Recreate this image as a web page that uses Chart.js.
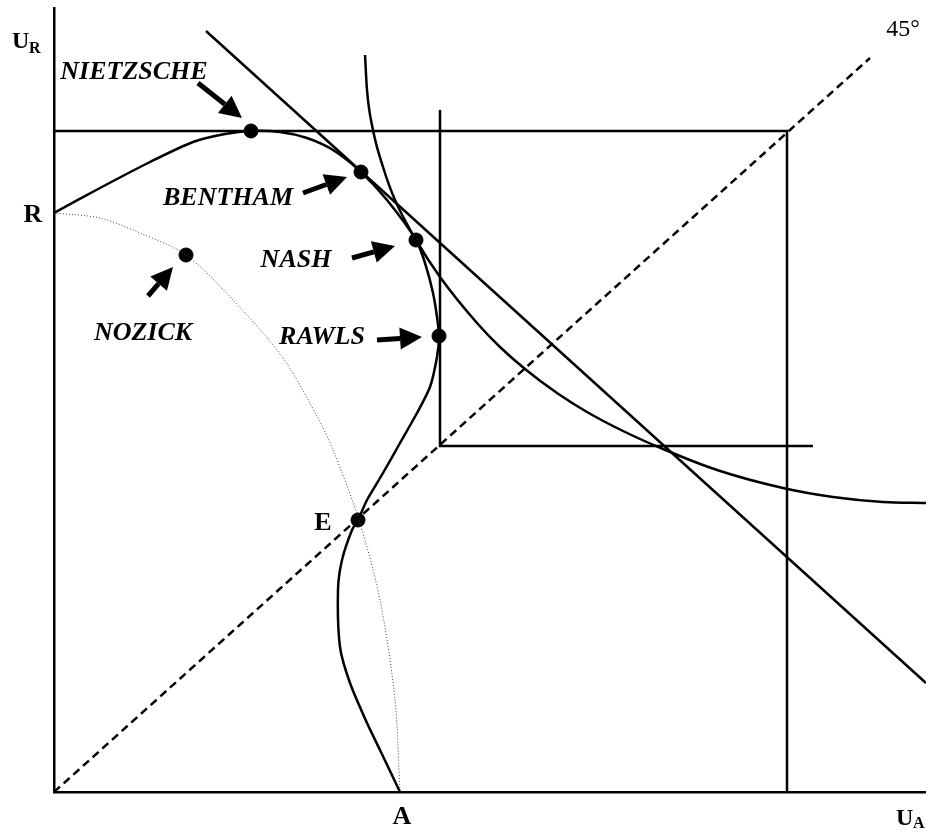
<!DOCTYPE html>
<html lang="en">
<head>
    <meta charset="UTF-8">
    <title>Utility Possibility Frontier</title>
    <script src="https://cdn.jsdelivr.net/npm/chart.js"></script>
    <style>
        body { margin: 0; background: #fff; }
        .container { width: 926px; height: 831px; }
    </style>
</head>
<body>
    <div class="container">
        <canvas id="upfChart"></canvas>
    </div>

    <script>
        // Curves (x = U_A, y = U_R)
        const frontier = [
            [0, 579], [46, 604], [96, 630], [139, 650], [171, 658], [197, 661], [226, 660],
            [253, 654], [279, 642], [307, 620], [333, 592], [362, 552], [371, 529], [379, 499],
            [383, 475], [385, 456], [383, 435], [376, 405], [363, 379], [346, 349], [329, 319],
            [313, 292], [304, 272], [298, 262], [288, 232], [284, 202], [286, 145], [296, 109],
            [313, 69], [326, 42], [346, 0]
        ];
        const nozickCurve = [
            [0, 579], [46, 574], [86, 559], [132, 537], [179, 492], [229, 434], [265, 372],
            [279, 342], [305, 272], [326, 192], [341, 92], [346, 0]
        ];
        const nashCurve = [
            [311, 737], [313, 702], [319, 662], [329, 625], [341, 592], [362, 552], [386, 515],
            [423, 469], [446, 445], [471, 423], [503, 399], [533, 380], [569, 361], [609, 343],
            [663, 322], [729, 304], [779, 295], [829, 290], [872, 289]
        ];
        const benthamLine = [[152, 761], [872, 109]];
        const rawlsLine = [[386, 682], [386, 346], [759, 346]];
        const nietzscheLine = [[0, 661], [733, 661], [733, 0]];
        const diagonal = [[0, 0], [816, 734]];

        // Named points on the frontier
        const pointNames = ['NIETZSCHE', 'BENTHAM', 'NASH', 'RAWLS', 'NOZICK', 'E'];
        const pointX = [197, 307, 362, 385, 132, 304];
        const pointY = [661, 620, 552, 456, 537, 272];

        // Italic labels and their arrows: [tail x, tail y, tip x, tip y]
        const tagNames = ['NIETZSCHE', 'BENTHAM', 'NASH', 'NOZICK', 'RAWLS'];
        const tagPos = [[80, 720], [174, 594], [242, 532], [89, 459], [268, 455]];
        const arrows = [
            [144, 709, 188, 674], [249, 599, 293, 615], [298, 534, 341, 546],
            [94, 496, 119, 525], [323, 452, 368, 455]
        ];

        const toXY = arr => arr.map(p => ({ x: p[0], y: p[1] }));

        function lineSet(arr, opts) {
            return Object.assign({
                data: toXY(arr),
                borderColor: '#000',
                borderWidth: 2.5,
                pointRadius: 0,
                fill: false,
                tension: 0
            }, opts || {});
        }

        const labelPlugin = {
            id: 'labels',
            afterDatasetsDraw(chart) {
                const ctx = chart.ctx;
                const xs = chart.scales.x, ys = chart.scales.y;
                ctx.save();
                ctx.fillStyle = '#000';
                ctx.strokeStyle = '#000';
                ctx.textAlign = 'center';
                ctx.textBaseline = 'middle';

                // italic tags
                ctx.font = 'italic bold 26px "Liberation Serif", serif';
                tagNames.forEach((t, i) => {
                    ctx.fillText(t, xs.getPixelForValue(tagPos[i][0]), ys.getPixelForValue(tagPos[i][1]));
                });

                // arrows
                arrows.forEach(a => {
                    const x1 = xs.getPixelForValue(a[0]), y1 = ys.getPixelForValue(a[1]);
                    const x2 = xs.getPixelForValue(a[2]), y2 = ys.getPixelForValue(a[3]);
                    const ang = Math.atan2(y2 - y1, x2 - x1);
                    const head = 22, half = 11;
                    const bx = x2 - head * Math.cos(ang), by = y2 - head * Math.sin(ang);
                    ctx.lineWidth = 5;
                    ctx.beginPath();
                    ctx.moveTo(x1, y1);
                    ctx.lineTo(bx, by);
                    ctx.stroke();
                    ctx.beginPath();
                    ctx.moveTo(x2, y2);
                    ctx.lineTo(bx + half * Math.sin(ang), by - half * Math.cos(ang));
                    ctx.lineTo(bx - half * Math.sin(ang), by + half * Math.cos(ang));
                    ctx.closePath();
                    ctx.fill();
                });

                // bold letters
                ctx.font = 'bold 26px "Liberation Serif", serif';
                ctx.fillText('R', xs.getPixelForValue(-21), ys.getPixelForValue(577));
                ctx.fillText('E', xs.getPixelForValue(269), ys.getPixelForValue(269));
                ctx.fillText('A', xs.getPixelForValue(348), ys.getPixelForValue(-25));

                // axis titles with subscripts
                ctx.textAlign = 'left';
                ctx.textBaseline = 'alphabetic';
                ctx.font = 'bold 24px "Liberation Serif", serif';
                ctx.fillText('U', 12, 48);
                ctx.fillText('U', 896, 825);
                ctx.font = 'bold 16px "Liberation Serif", serif';
                ctx.fillText('R', 29, 53);
                ctx.fillText('A', 913, 828);

                ctx.font = '24px "Liberation Serif", serif';
                ctx.textAlign = 'center';
                ctx.textBaseline = 'middle';
                ctx.fillText('45\u00B0', xs.getPixelForValue(849), ys.getPixelForValue(762));
                ctx.restore();
            }
        };

        const ctx = document.getElementById('upfChart').getContext('2d');
        const chart = new Chart(ctx, {
            type: 'line',
            data: {
                datasets: [
                    lineSet(diagonal, { borderDash: [8, 5] }),
                    lineSet(nozickCurve, { borderWidth: 1, borderColor: '#444', borderDash: [1, 2], tension: 0.3 }),
                    lineSet(nietzscheLine),
                    lineSet(rawlsLine),
                    lineSet(benthamLine),
                    lineSet(nashCurve, { cubicInterpolationMode: 'monotone' }),
                    lineSet(frontier, { tension: 0.25 }),
                    {
                        type: 'scatter',
                        data: pointX.map((x, i) => ({ x: x, y: pointY[i], name: pointNames[i] })),
                        backgroundColor: '#000',
                        borderColor: '#000',
                        pointRadius: 7,
                        pointHoverRadius: 7
                    }
                ]
            },
            options: {
                responsive: true,
                maintainAspectRatio: false,
                animation: false,
                layout: { autoPadding: false, padding: { left: 54, right: 0, top: 8, bottom: 39 } },
                plugins: {
                    legend: { display: false },
                    tooltip: { enabled: false }
                },
                scales: {
                    x: {
                        type: 'linear',
                        min: 0,
                        max: 872,
                        grid: { display: false, drawTicks: false },
                        ticks: { display: false, padding: 0 },
                        border: { display: true, color: '#000', width: 2.5 }
                    },
                    y: {
                        type: 'linear',
                        min: 0,
                        max: 784,
                        grid: { display: false, drawTicks: false },
                        ticks: { display: false, padding: 0 },
                        border: { display: true, color: '#000', width: 2.5 }
                    }
                }
            },
            plugins: [labelPlugin]
        });
    </script>
</body>
</html>
